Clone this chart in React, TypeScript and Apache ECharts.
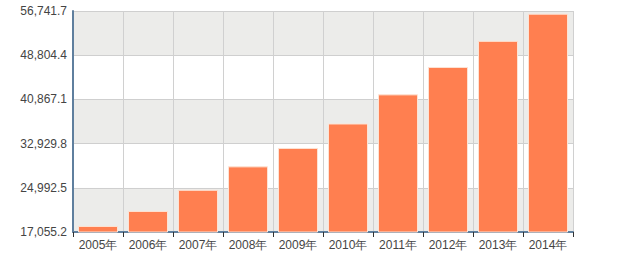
import React, { useEffect, useRef } from "react";
import * as echarts from "echarts";

const categories = ["2005年", "2006年", "2007年", "2008年", "2009年", "2010年", "2011年", "2012年", "2013年", "2014年"];
const values = [18140, 20840, 24630, 28840, 32150, 36540, 41770, 46690, 51380, 56260];
const yMin = 17055.2;
const yMax = 56741.7;
const yInterval = 7937.3;

export default function App() {
  const ref = useRef<HTMLDivElement>(null);
  useEffect(() => {
    if (!ref.current) return;
    const chart = echarts.init(ref.current, null, { renderer: "svg" });
    chart.setOption({
      animation: false,
      grid: { left: 73, right: 47, top: 11, bottom: 27 },
      xAxis: {
        type: "category",
        data: categories,
        boundaryGap: true,
        axisLine: { lineStyle: { color: "#5f7f9e", width: 2 } },
        axisTick: { show: true, interval: 0, length: 5, lineStyle: { color: "#333" } },
        axisLabel: { interval: 0, color: "#444", fontSize: 12, fontFamily: "Liberation Sans, Arial", margin: 7 },
        splitLine: { show: true, interval: 0, lineStyle: { color: "#d0d0d0", width: 1 } },
      },
      yAxis: {
        type: "value",
        min: yMin,
        max: yMax,
        interval: yInterval,
        axisLine: { show: true, lineStyle: { color: "#5f7f9e", width: 2 } },
        axisTick: { show: false },
        axisLabel: {
          color: "#444",
          fontSize: 12,
          fontFamily: "Liberation Sans, Arial",
          margin: 6,
          formatter: (v: number) =>
            v.toLocaleString("en-US", { minimumFractionDigits: 1, maximumFractionDigits: 1 }),
        },
        splitLine: { show: true, lineStyle: { color: "#cfcfcf", width: 1 } },
        splitArea: { show: true, areaStyle: { color: ["#ececea", "#ffffff"] } },
      },
      series: [
        {
          type: "bar",
          data: values,
          barWidth: "80%",
          itemStyle: { color: "#ff7f50", borderColor: "#fde3d4", borderWidth: 1 },
        },
      ],
    });
    return () => chart.dispose();
  }, []);
  return <div ref={ref} style={{ width: 620, height: 259, position: "absolute", left: 0, top: 0 }} />;
}
